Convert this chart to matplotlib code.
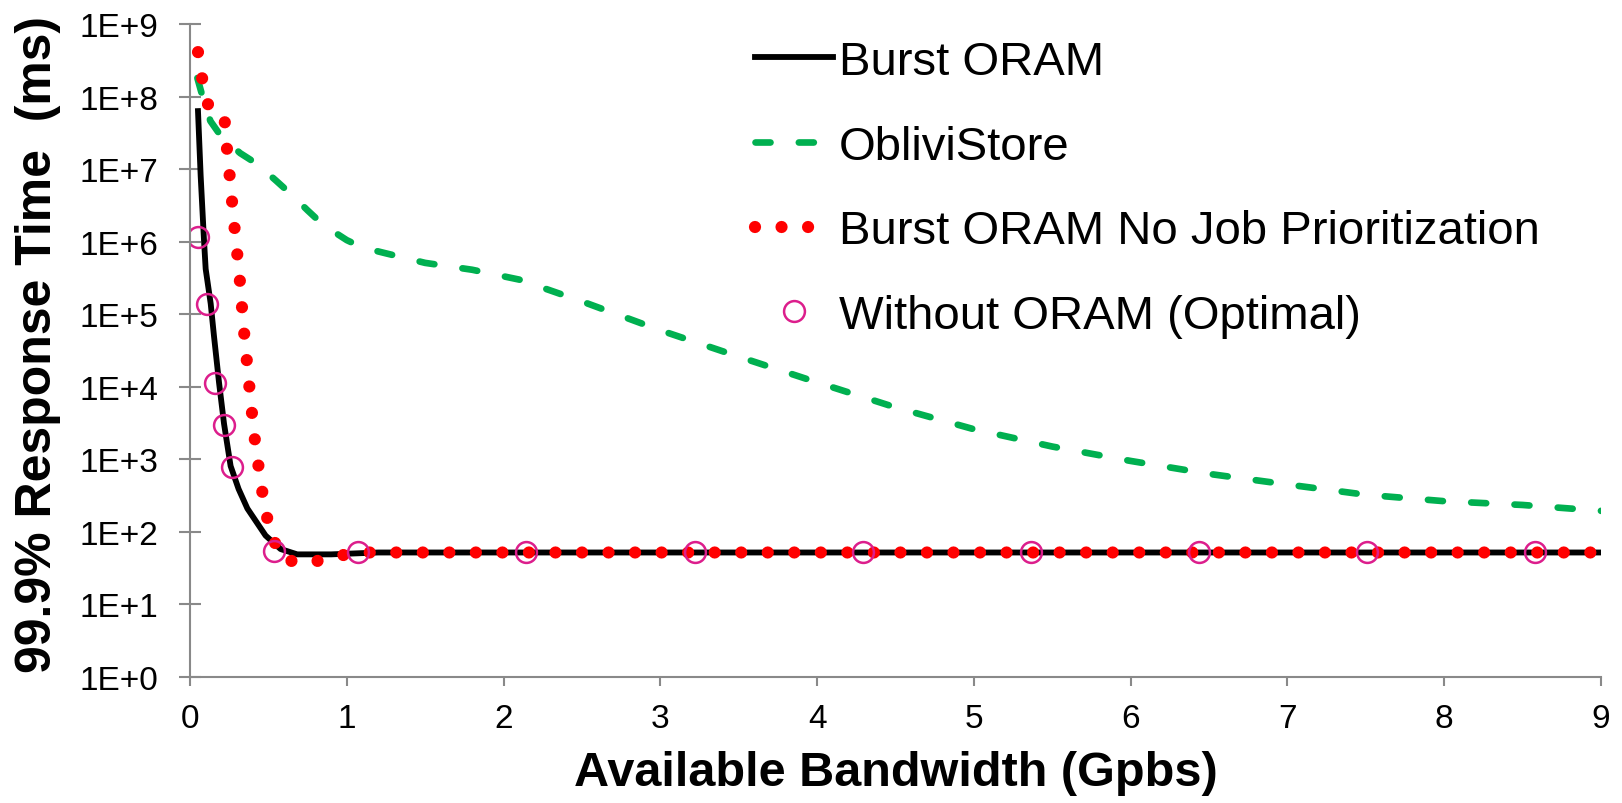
import matplotlib
matplotlib.use('Agg')
import matplotlib.pyplot as plt
from matplotlib.ticker import FixedLocator, NullLocator

plt.rcParams['font.family'] = ['Liberation Sans', 'DejaVu Sans']

# Burst ORAM (solid black)
burst_x = [0.051, 0.068, 0.089, 0.100, 0.132, 0.153, 0.185, 0.217, 0.259, 0.31, 0.366, 0.482, 0.578, 0.684, 0.9, 1.2, 9.0]
burst_y = [6.3e7, 8.1e6, 1.07e6, 4.2e5, 1.4e5, 5.0e4, 1.15e4, 3.1e3, 810, 390, 210, 89, 58, 49, 49, 52, 52]

# ObliviStore (green dashed)
obliv_x = [0.047, 0.08, 0.13, 0.2, 0.32, 0.43, 0.55, 0.65, 0.75, 0.85, 1.0, 1.1, 1.25, 1.5, 1.8, 2.1,
           2.5, 3.0, 3.5, 4.0, 4.5, 5.0, 5.5, 6.0, 6.5, 7.0, 7.5, 8.0, 8.5, 9.0]
obliv_y = [1.8e8, 1.0e8, 4.6e7, 2.8e7, 1.66e7, 1.17e7, 6.9e6, 4.4e6, 2.7e6, 1.7e6, 1.05e6, 8.3e5, 6.9e5, 5.1e5, 4.1e5, 3.0e5,
           1.5e5, 6.0e4, 2.6e4, 1.15e4, 5.2e3, 2.6e3, 1.5e3, 950, 630, 450, 325, 265, 235, 195]

# Burst ORAM No Job Prioritization (red dotted)
nojob_x = [0.051, 0.077, 0.115, 0.219, 0.232, 0.249, 0.280, 0.315, 0.342, 0.374, 0.408, 0.453, 0.482, 0.519,
           0.602, 0.758, 0.922, 1.088, 9.0]
nojob_y = [4.1e8, 1.8e8, 7.8e7, 5.4e7, 2.3e7, 1.0e7, 1.9e6, 3.5e5, 6.6e4, 1.26e4, 2.3e3, 450, 195, 87,
           41, 37, 46, 52, 52]

# Without ORAM (Optimal) (open circles)
opt_x = [0.0536, 0.107, 0.161, 0.215, 0.268, 0.536, 1.073, 2.146, 3.218, 4.291, 5.364, 6.437, 7.51, 8.582]
opt_y = [1.17e6, 1.4e5, 1.12e4, 3.0e3, 780, 55, 53, 52, 52, 52, 52, 52, 52, 52]

ytick_vals = [1e0, 1e1, 1e2, 1e3, 1e4, 1e5, 1e6, 1e7, 1e8, 1e9]
ytick_labels = ['1E+0', '1E+1', '1E+2', '1E+3', '1E+4', '1E+5', '1E+6', '1E+7', '1E+8', '1E+9']
xtick_vals = [0, 1, 2, 3, 4, 5, 6, 7, 8, 9]

fig = plt.figure(figsize=(16.22, 8.04), dpi=100)
ax = fig.add_axes([190 / 1622, 1 - 678 / 804, (1601 - 190) / 1622, (678 - 25) / 804])

l_obliv, = ax.plot(obliv_x, obliv_y, color='#00B050', lw=4.8, dashes=(2.25, 4.25),
                   dash_capstyle='round', solid_capstyle='round', label='ObliviStore')
l_burst, = ax.plot(burst_x, burst_y, color='black', lw=4.2, solid_joinstyle='round',
                   label='Burst ORAM')
l_nojob, = ax.plot(nojob_x, nojob_y, color='#FF0000', lw=8.8, dashes=(0.001, 2.17),
                   dash_capstyle='round', label='Burst ORAM No Job Prioritization')
l_opt, = ax.plot(opt_x, opt_y, ls='none', marker='o', ms=15, mfc='none', mec='#DC1E8C', mew=1.8,
                 label='Without ORAM (Optimal)')

ax.set_yscale('log')
ax.set_xlim(0, 9)
ax.set_ylim(1, 1e9)
ax.yaxis.set_major_locator(FixedLocator(ytick_vals))
ax.yaxis.set_minor_locator(NullLocator())
ax.set_yticklabels(ytick_labels)
ax.set_xticks(xtick_vals)

axis_grey = '#898989'
for s in ['top', 'right']:
    ax.spines[s].set_visible(False)
for s in ['left', 'bottom']:
    ax.spines[s].set_color(axis_grey)
    ax.spines[s].set_linewidth(1.5)
ax.tick_params(axis='y', direction='inout', length=16, width=1.5, color=axis_grey, labelsize=24, pad=15)
ax.tick_params(axis='x', direction='out', length=6.5, width=1.5, color=axis_grey, labelsize=24, pad=12)

ax.set_xlabel('Available Bandwidth (Gpbs)', fontsize=35, fontweight='bold')
ax.set_ylabel('99.9% Response Time  (ms)', fontsize=36, fontweight='bold')
ax.xaxis.set_label_coords(0.5, -(751 - 678) / 653)
ax.yaxis.set_label_coords(-(189 - 60) / 1411, 0.51)

fig.legend(handles=[l_burst, l_obliv, l_nojob, l_opt], loc='upper left',
           bbox_to_anchor=(755 / 1622, 1 - 41 / 804), frameon=False, fontsize=34,
           handlelength=1.66, handletextpad=0.12, labelspacing=0.86, borderpad=0, borderaxespad=0)

fig.savefig('out.png', dpi=100)
